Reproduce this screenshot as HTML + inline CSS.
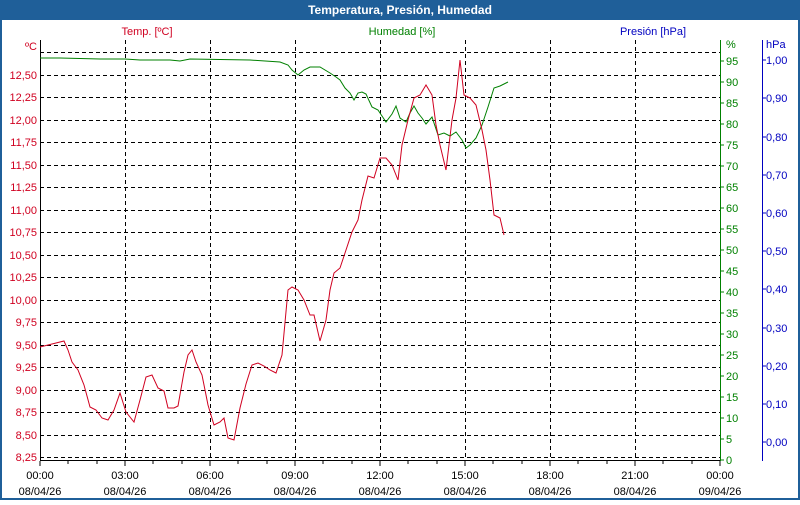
<!DOCTYPE html>
<html><head><meta charset="utf-8"><style>
body{margin:0;width:800px;height:500px;overflow:hidden;background:#fff}
svg text{font-family:"Liberation Sans",sans-serif;font-size:11px}
</style></head><body>
<svg width="800" height="500" xmlns="http://www.w3.org/2000/svg">
<rect x="0" y="0" width="800" height="500" fill="#1f5f99"/>
<rect x="2" y="20" width="796" height="478" fill="#fff"/>
<text x="400" y="14" text-anchor="middle" fill="#fff" font-weight="bold" style="font-size:12px">Temperatura, Presión, Humedad</text>
<text x="147" y="35" text-anchor="middle" fill="#d00020">Temp. [ºC]</text>
<text x="402" y="35" text-anchor="middle" fill="#008000">Humedad [%]</text>
<text x="653" y="35" text-anchor="middle" fill="#0000c0">Presión [hPa]</text>
<g stroke="#000" stroke-dasharray="4,3" stroke-width="1">
<line x1="40" y1="52.5" x2="720" y2="52.5"/>
<line x1="40" y1="75.5" x2="720" y2="75.5"/>
<line x1="40" y1="97.5" x2="720" y2="97.5"/>
<line x1="40" y1="120.5" x2="720" y2="120.5"/>
<line x1="40" y1="142.5" x2="720" y2="142.5"/>
<line x1="40" y1="165.5" x2="720" y2="165.5"/>
<line x1="40" y1="187.5" x2="720" y2="187.5"/>
<line x1="40" y1="210.5" x2="720" y2="210.5"/>
<line x1="40" y1="232.5" x2="720" y2="232.5"/>
<line x1="40" y1="255.5" x2="720" y2="255.5"/>
<line x1="40" y1="277.5" x2="720" y2="277.5"/>
<line x1="40" y1="300.5" x2="720" y2="300.5"/>
<line x1="40" y1="322.5" x2="720" y2="322.5"/>
<line x1="40" y1="345.5" x2="720" y2="345.5"/>
<line x1="40" y1="367.5" x2="720" y2="367.5"/>
<line x1="40" y1="390.5" x2="720" y2="390.5"/>
<line x1="40" y1="412.5" x2="720" y2="412.5"/>
<line x1="40" y1="435.5" x2="720" y2="435.5"/>
<line x1="40" y1="457.5" x2="720" y2="457.5"/>
<line x1="125.5" y1="40" x2="125.5" y2="460"/>
<line x1="210.5" y1="40" x2="210.5" y2="460"/>
<line x1="295.5" y1="40" x2="295.5" y2="460"/>
<line x1="380.5" y1="40" x2="380.5" y2="460"/>
<line x1="465.5" y1="40" x2="465.5" y2="460"/>
<line x1="550.5" y1="40" x2="550.5" y2="460"/>
<line x1="635.5" y1="40" x2="635.5" y2="460"/>
</g>
<line x1="40.5" y1="40" x2="40.5" y2="461" stroke="#000"/>
<line x1="40" y1="460.5" x2="720" y2="460.5" stroke="#000"/>
<line x1="720.5" y1="40" x2="720.5" y2="461" stroke="#008000"/>
<line x1="762.5" y1="40" x2="762.5" y2="461" stroke="#0000c0"/>
<g stroke="#000">
<path d="M40 461v5M68 461v3M97 461v3M125 461v5M153 461v3M182 461v3M210 461v5M238 461v3M267 461v3M295 461v5M323 461v3M352 461v3M380 461v5M408 461v3M437 461v3M465 461v5M493 461v3M522 461v3M550 461v5M578 461v3M607 461v3M635 461v5M663 461v3M692 461v3M720 461v5"/>
</g>
<g fill="#d00020" text-anchor="end">
<text x="37" y="50">ºC</text>
<text x="37" y="79">12,50</text><text x="37" y="101">12,25</text><text x="37" y="124">12,00</text><text x="37" y="146">11,75</text><text x="37" y="169">11,50</text><text x="37" y="191">11,25</text><text x="37" y="214">11,00</text><text x="37" y="236">10,75</text><text x="37" y="259">10,50</text><text x="37" y="281">10,25</text><text x="37" y="304">10,00</text><text x="37" y="326">9,75</text><text x="37" y="349">9,50</text><text x="37" y="371">9,25</text><text x="37" y="394">9,00</text><text x="37" y="416">8,75</text><text x="37" y="439">8,50</text><text x="37" y="461">8,25</text>
</g>
<g fill="#008000" stroke="#008000">
<path d="M720 460h4M720 439h4M720 418h4M720 397h4M720 376h4M720 355h4M720 334h4M720 313h4M720 292h4M720 271h4M720 250h4M720 229h4M720 208h4M720 187h4M720 166h4M720 145h4M720 124h4M720 103h4M720 82h4M720 61h4"/>
</g>
<g fill="#008000">
<text x="726" y="464">0</text><text x="726" y="443">5</text><text x="726" y="422">10</text><text x="726" y="401">15</text><text x="726" y="380">20</text><text x="726" y="359">25</text><text x="726" y="338">30</text><text x="726" y="317">35</text><text x="726" y="296">40</text><text x="726" y="275">45</text><text x="726" y="254">50</text><text x="726" y="233">55</text><text x="726" y="212">60</text><text x="726" y="191">65</text><text x="726" y="170">70</text><text x="726" y="149">75</text><text x="726" y="128">80</text><text x="726" y="107">85</text><text x="726" y="86">90</text><text x="726" y="65">95</text><text x="726" y="48">%</text>
</g>
<path stroke="#0000c0" d="M762 442h4M762 404h4M762 366h4M762 328h4M762 289h4M762 251h4M762 213h4M762 175h4M762 137h4M762 98h4M762 60h4"/>
<g fill="#0000c0">
<text x="766" y="446">0,00</text><text x="766" y="408">0,10</text><text x="766" y="370">0,20</text><text x="766" y="332">0,30</text><text x="766" y="293">0,40</text><text x="766" y="255">0,50</text><text x="766" y="217">0,60</text><text x="766" y="179">0,70</text><text x="766" y="141">0,80</text><text x="766" y="102">0,90</text><text x="766" y="64">1,00</text><text x="766" y="48">hPa</text>
</g>
<polyline fill="none" stroke="#008000" points="40,58 60,58 100,59 125,59 140,60 170,60 180,61 190,59 250,60 280,62 288,65 292,70 298,75 304,70 310,67 320,67 330,73 336,77 340,80 345,88 350,93 354,100 358,93 362,92 366,94 372,107 378,110 386,122 392,114 396,106 400,118 406,122 410,113 414,106 418,113 422,118 426,124 432,117 438,135 444,133 450,136 456,132 462,140 466,148 470,145 476,138 482,125 488,107 494,88 500,86 508,82"/>
<polyline fill="none" stroke="#d00020" points="40,347 48,345 56,343 64,341 68,350 72,362 78,370 84,385 90,407 96,410 102,418 108,420 114,410 120,393 126,412 134,422 140,400 146,377 152,375 158,388 164,391 168,408 174,408 178,406 184,372 188,355 192,350 196,362 202,375 208,405 214,425 220,422 224,418 228,438 234,440 240,408 246,384 252,365 258,363 264,366 270,370 276,373 282,355 288,290 292,287 298,290 304,300 310,315 314,315 320,341 326,320 330,290 334,273 340,268 346,250 352,232 358,220 362,200 368,176 374,178 380,158 386,158 392,165 398,180 402,145 408,120 414,98 420,95 426,85 432,95 436,125 440,145 446,170 452,120 456,98 460,60 464,95 470,98 476,105 482,130 486,150 490,180 494,215 500,218 504,235"/>
<g fill="#000" text-anchor="middle">
<text x="40" y="479">00:00</text><text x="125" y="479">03:00</text><text x="210" y="479">06:00</text><text x="295" y="479">09:00</text><text x="380" y="479">12:00</text><text x="465" y="479">15:00</text><text x="550" y="479">18:00</text><text x="635" y="479">21:00</text><text x="720" y="479">00:00</text>
<text x="40" y="495">08/04/26</text><text x="125" y="495">08/04/26</text><text x="210" y="495">08/04/26</text><text x="295" y="495">08/04/26</text><text x="380" y="495">08/04/26</text><text x="465" y="495">08/04/26</text><text x="550" y="495">08/04/26</text><text x="635" y="495">08/04/26</text><text x="720" y="495">09/04/26</text>
</g>
</svg>
</body></html>
